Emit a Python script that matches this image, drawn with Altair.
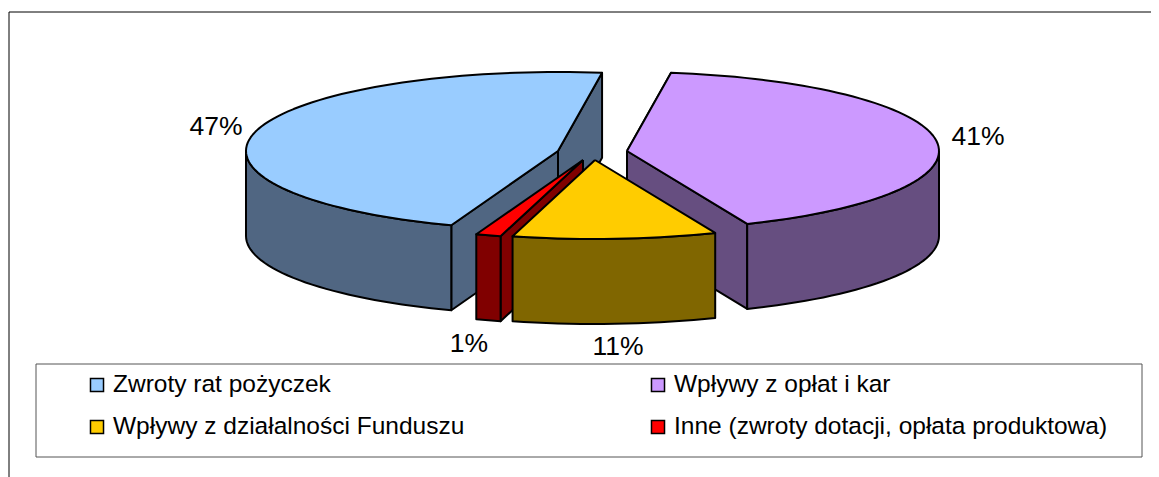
import math
import altair as alt
import pandas as pd

# --- data
names = ["Zwroty rat pożyczek", "Wpływy z opłat i kar",
         "Wpływy z działalności Funduszu", "Inne (zwroty dotacji, opłata produktowa)"]
values = [46.7, 41.45, 10.55, 1.3]
top_colors = ["#99CCFF", "#CC99FF", "#FFCC00", "#FF0000"]
side_colors = ["#506682", "#664E80", "#806600", "#800000"]

# --- layout of the 3D pie (image pixels)
W, H = 1151, 477
START = 200.0
RX, RY, DEPTH = 312, 79, 85
centers = [(558, 151), (627, 151), (595, 160), (583, 160)]
label_pos = [(216, 127), (978, 137), (618, 347), (469, 344)]
legend_box = (36, 1142, 364, 457)
legend_sym = [(97, 385), (658, 385), (97, 427), (658, 427)]
TEXT_DX = 16
FONT = "Liberation Sans"

spans = []
a = START
for v in values:
    spans.append((a, a + v * 3.6))
    a += v * 3.6


def pt(c, deg, dz=0):
    r = math.radians(deg)
    return (c[0] + RX * math.sin(r), c[1] - RY * math.cos(r) + dz)


def arc(c, a0, a1, dz=0):
    n = max(2, int(abs(a1 - a0) / 2) + 1)
    return [pt(c, a0 + (a1 - a0) * i / (n - 1), dz) for i in range(n)]


x_scale = alt.Scale(domain=[8, W], range=[0, W - 8], nice=False, zero=False)
y_scale = alt.Scale(domain=[8, H], range=[0, H - 8], nice=False, zero=False)


def shape(points, fill, stroke="#000000", sw=2.0):
    pts = list(points) + [points[0]]
    df = pd.DataFrame({"x": [p[0] for p in pts], "y": [p[1] for p in pts],
                       "i": list(range(len(pts)))})
    return alt.Chart(df).mark_line(fill=fill, stroke=stroke, strokeWidth=sw,
                                   strokeJoin="round", clip=False).encode(
        x=alt.X("x:Q", scale=x_scale, axis=None),
        y=alt.Y("y:Q", scale=y_scale, axis=None),
        order="i:Q",
    )


def parallelogram(c, deg):
    p = pt(c, deg)
    return [(c[0], c[1]), p, (p[0], p[1] + DEPTH), (c[0], c[1] + DEPTH)]


layers = []

# frame: top and left edges only
frame = pd.DataFrame({"x": [W, 9, 9], "y": [12, 12, H], "i": [0, 1, 2]})
layers.append(alt.Chart(frame).mark_line(color="#000000", strokeWidth=1).encode(
    x=alt.X("x:Q", scale=x_scale, axis=None),
    y=alt.Y("y:Q", scale=y_scale, axis=None),
    order="i:Q"))


def front_arc(c, a0, a1, color):
    top = arc(c, a0, a1)
    bottom = arc(c, a1, a0, DEPTH)
    return shape(top + bottom, color)


def top_face(c, a0, a1, color):
    return shape([c] + arc(c, a0, a1), color)


# blue slice
c = centers[0]; a0, a1 = spans[0]
layers += [shape(parallelogram(c, a1), side_colors[0]),
           shape(parallelogram(c, a0), side_colors[0]),
           front_arc(c, a0, 270, side_colors[0]),
           top_face(c, a0, a1, top_colors[0])]
# purple slice
c = centers[1]; a0, a1 = spans[1]
a0 %= 360; a1 %= 360
layers += [shape(parallelogram(c, a0), side_colors[1]),
           shape(parallelogram(c, a1), side_colors[1]),
           front_arc(c, 90, a1, side_colors[1]),
           top_face(c, a0, a1, top_colors[1])]
# red slice
c = centers[3]; a0, a1 = spans[3]
a0 %= 360; a1 %= 360
layers += [shape(parallelogram(c, a0), side_colors[3]),
           front_arc(c, a0, a1, side_colors[3]),
           top_face(c, a0, a1, top_colors[3])]
# yellow slice
c = centers[2]; a0, a1 = spans[2]
a0 %= 360; a1 %= 360
layers += [front_arc(c, a0, a1, side_colors[2]),
           top_face(c, a0, a1, top_colors[2])]

# percentage labels
lab = pd.DataFrame({"x": [p[0] for p in label_pos], "y": [p[1] for p in label_pos],
                    "t": [f"{round(v)}%" for v in values]})
layers.append(alt.Chart(lab).mark_text(font=FONT, fontSize=26.5, color="#000000",
                                       align="center", baseline="middle").encode(
    x=alt.X("x:Q", scale=x_scale, axis=None),
    y=alt.Y("y:Q", scale=y_scale, axis=None),
    text="t:N"))

# legend
bx = pd.DataFrame({"x": [legend_box[0]], "x2": [legend_box[1]],
                   "y": [legend_box[2]], "y2": [legend_box[3]]})
layers.append(alt.Chart(bx).mark_rect(fill="#FFFFFF", stroke="#555555", strokeWidth=1).encode(
    x=alt.X("x:Q", scale=x_scale, axis=None), x2="x2:Q",
    y=alt.Y("y:Q", scale=y_scale, axis=None), y2="y2:Q"))
leg = pd.DataFrame({"x": [p[0] for p in legend_sym], "y": [p[1] for p in legend_sym],
                    "tx": [p[0] + TEXT_DX for p in legend_sym],
                    "name": names, "col": top_colors})
layers.append(alt.Chart(leg).mark_square(size=170, opacity=1, stroke="#000000", strokeWidth=1.5).encode(
    x=alt.X("x:Q", scale=x_scale, axis=None),
    y=alt.Y("y:Q", scale=y_scale, axis=None),
    fill=alt.Color("col:N", scale=None)))
layers.append(alt.Chart(leg).mark_text(font=FONT, fontSize=24.5, color="#000000",
                                       align="left", baseline="middle").encode(
    x=alt.X("tx:Q", scale=x_scale, axis=None),
    y=alt.Y("y:Q", scale=y_scale, axis=None),
    text="name:N"))

chart = alt.layer(*layers).properties(
    width=W - 8, height=H - 8, padding=0,
    background="#FFFFFF",
    autosize=alt.AutoSizeParams(type="none"),
).configure_view(stroke=None)

chart.save("out.html", embed_options={"renderer": "svg", "actions": False})
